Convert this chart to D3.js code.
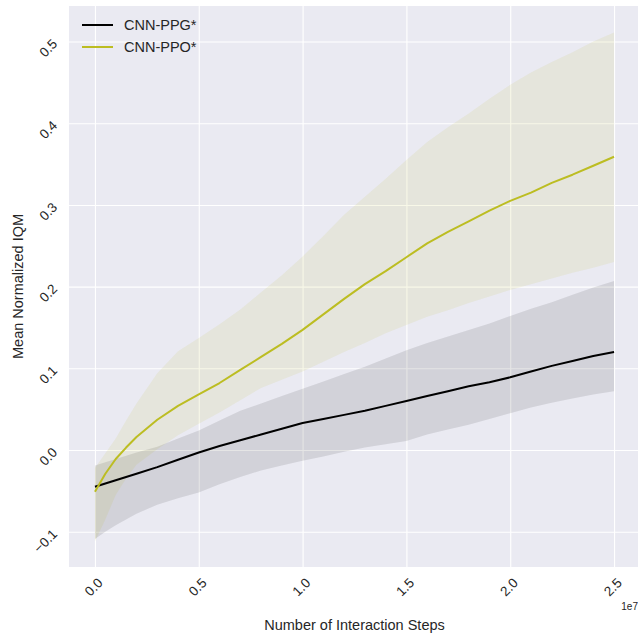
<!DOCTYPE html>
<html>
<head>
<meta charset="utf-8">
<script src="https://cdn.jsdelivr.net/npm/d3@7"></script>
<style>
  html, body { margin: 0; padding: 0; background: #ffffff; }
  svg { display: block; }
  text { font-family: "Liberation Sans", Arial, sans-serif; fill: #262626; }
</style>
</head>
<body>
<svg id="chart" width="638" height="637"></svg>
<script>
// ---- data (x in units of 1e7 interaction steps) ----
const steps = [0, 0.05, 0.1, 0.15, 0.2, 0.3, 0.4, 0.5, 0.6, 0.7, 0.8, 0.9, 1.0, 1.1, 1.2, 1.3, 1.4, 1.5, 1.6, 1.7, 1.8, 1.9, 2.0, 2.1, 2.2, 2.3, 2.4, 2.5];

const ppgMean  = [-0.045, -0.041, -0.037, -0.033, -0.029, -0.021, -0.012, -0.003, 0.005, 0.012, 0.019, 0.026, 0.033, 0.038, 0.043, 0.048, 0.054, 0.060, 0.066, 0.072, 0.078, 0.083, 0.089, 0.096, 0.103, 0.109, 0.115, 0.120];
const ppgUpper = [-0.019, -0.015, -0.011, -0.007, -0.003, 0.004, 0.014, 0.024, 0.036, 0.048, 0.057, 0.066, 0.075, 0.084, 0.093, 0.102, 0.112, 0.122, 0.131, 0.139, 0.147, 0.155, 0.164, 0.173, 0.181, 0.190, 0.199, 0.207];
const ppgLower = [-0.109, -0.100, -0.092, -0.085, -0.078, -0.067, -0.059, -0.052, -0.042, -0.033, -0.025, -0.019, -0.013, -0.008, -0.002, 0.003, 0.007, 0.011, 0.019, 0.025, 0.031, 0.038, 0.045, 0.052, 0.058, 0.063, 0.068, 0.072];

const ppoMean  = [-0.051, -0.029, -0.011, 0.003, 0.016, 0.037, 0.054, 0.068, 0.082, 0.098, 0.114, 0.130, 0.147, 0.166, 0.185, 0.203, 0.219, 0.236, 0.253, 0.267, 0.280, 0.293, 0.305, 0.315, 0.327, 0.337, 0.348, 0.359];
const ppoUpper = [-0.022, -0.004, 0.014, 0.036, 0.057, 0.094, 0.121, 0.137, 0.154, 0.172, 0.193, 0.214, 0.237, 0.262, 0.288, 0.310, 0.332, 0.355, 0.377, 0.395, 0.412, 0.430, 0.447, 0.462, 0.475, 0.487, 0.500, 0.511];
const ppoLower = [-0.112, -0.085, -0.055, -0.035, -0.018, 0.001, 0.018, 0.032, 0.046, 0.061, 0.076, 0.086, 0.096, 0.108, 0.120, 0.131, 0.143, 0.153, 0.163, 0.171, 0.180, 0.188, 0.196, 0.203, 0.210, 0.217, 0.223, 0.230];

const seriesNames = ["CNN-PPG*", "CNN-PPO*"];
const seriesColors = ["#000000", "#bcbd22"];

const xTicks = [0, 0.5, 1.0, 1.5, 2.0, 2.5];
const yTicks = [-0.1, 0.0, 0.1, 0.2, 0.3, 0.4, 0.5];

// ---- layout ----
const svg = d3.select("#chart");
const plot = { left: 69, right: 640, top: 6, bottom: 567 };

const x = d3.scaleLinear().domain([-0.125, 2.625]).range([plot.left, plot.right]);
const y = d3.scaleLinear().domain([-0.1432, 0.5435]).range([plot.bottom, plot.top]);

svg.append("defs").append("clipPath").attr("id", "clip")
  .append("rect").attr("x", plot.left).attr("y", plot.top)
  .attr("width", plot.right - plot.left).attr("height", plot.bottom - plot.top);

svg.append("rect").attr("x", plot.left).attr("y", plot.top)
  .attr("width", plot.right - plot.left).attr("height", plot.bottom - plot.top)
  .attr("fill", "#eaeaf2");

// grid
const gx = svg.append("g").attr("transform", `translate(0,${plot.bottom})`)
  .call(d3.axisBottom(x).tickValues(xTicks).tickSize(-(plot.bottom - plot.top)).tickFormat(""));
const gy = svg.append("g").attr("transform", `translate(${plot.left},0)`)
  .call(d3.axisLeft(y).tickValues(yTicks).tickSize(-(plot.right - plot.left)).tickFormat(""));
[gx, gy].forEach(g => {
  g.select(".domain").remove();
  g.selectAll(".tick line").attr("stroke", "#ffffff").attr("stroke-width", 1.1);
});

// bands and lines
const series = [
  { name: seriesNames[0], color: seriesColors[0], mean: ppgMean, lo: ppgLower, hi: ppgUpper },
  { name: seriesNames[1], color: seriesColors[1], mean: ppoMean, lo: ppoLower, hi: ppoUpper }
];

const g = svg.append("g").attr("clip-path", "url(#clip)");
const area = d3.area().x((d, i) => x(steps[i])).y0(d => y(d[0])).y1(d => y(d[1]));
const line = d3.line().x((d, i) => x(steps[i])).y(d => y(d));

series.forEach(s => {
  g.append("path")
    .datum(steps.map((_, i) => [s.lo[i], s.hi[i]]))
    .attr("d", area)
    .attr("fill", s.color).attr("fill-opacity", 0.1);
});
series.forEach(s => {
  g.append("path")
    .datum(s.mean)
    .attr("d", line)
    .attr("fill", "none").attr("stroke", s.color).attr("stroke-width", 2)
    .attr("stroke-linejoin", "round").attr("stroke-linecap", "butt");
});

// tick labels (rotated 45°, anchored at their right end)
svg.append("g").selectAll("text").data(xTicks).join("text")
  .attr("transform", d => `translate(${x(d) + 5.5},${plot.bottom + 13.5}) rotate(-45)`)
  .attr("text-anchor", "end").attr("dominant-baseline", "central")
  .attr("font-size", 13.5)
  .text(d => d.toFixed(1));

svg.append("g").selectAll("text").data(yTicks).join("text")
  .attr("transform", d => `translate(${plot.left - 14},${y(d)}) rotate(-45)`)
  .attr("text-anchor", "end").attr("dominant-baseline", "central")
  .attr("font-size", 13.5)
  .text(d => d.toFixed(1).replace("-", "\u2212"));

// offset text
svg.append("text").attr("x", 638).attr("y", 610)
  .attr("text-anchor", "end").attr("font-size", 10).text("1e7");

// axis titles
svg.append("text").attr("x", (plot.left + 638) / 2 + 1).attr("y", 630)
  .attr("text-anchor", "middle").attr("font-size", 14.5)
  .text("Number of Interaction Steps");
svg.append("text")
  .attr("transform", `translate(23,${(plot.top + plot.bottom) / 2}) rotate(-90)`)
  .attr("text-anchor", "middle").attr("font-size", 14.5)
  .text("Mean Normalized IQM");

// legend
const leg = svg.append("g").attr("transform", "translate(82,25)");
series.forEach((s, i) => {
  const row = leg.append("g").attr("transform", `translate(0,${i * 22})`);
  row.append("line").attr("x1", 0).attr("x2", 31).attr("y1", 0).attr("y2", 0)
    .attr("stroke", s.color).attr("stroke-width", 2);
  row.append("text").attr("x", 42).attr("y", 0).attr("dominant-baseline", "central")
    .attr("font-size", 14.5).text(s.name);
});
</script>
</body>
</html>
